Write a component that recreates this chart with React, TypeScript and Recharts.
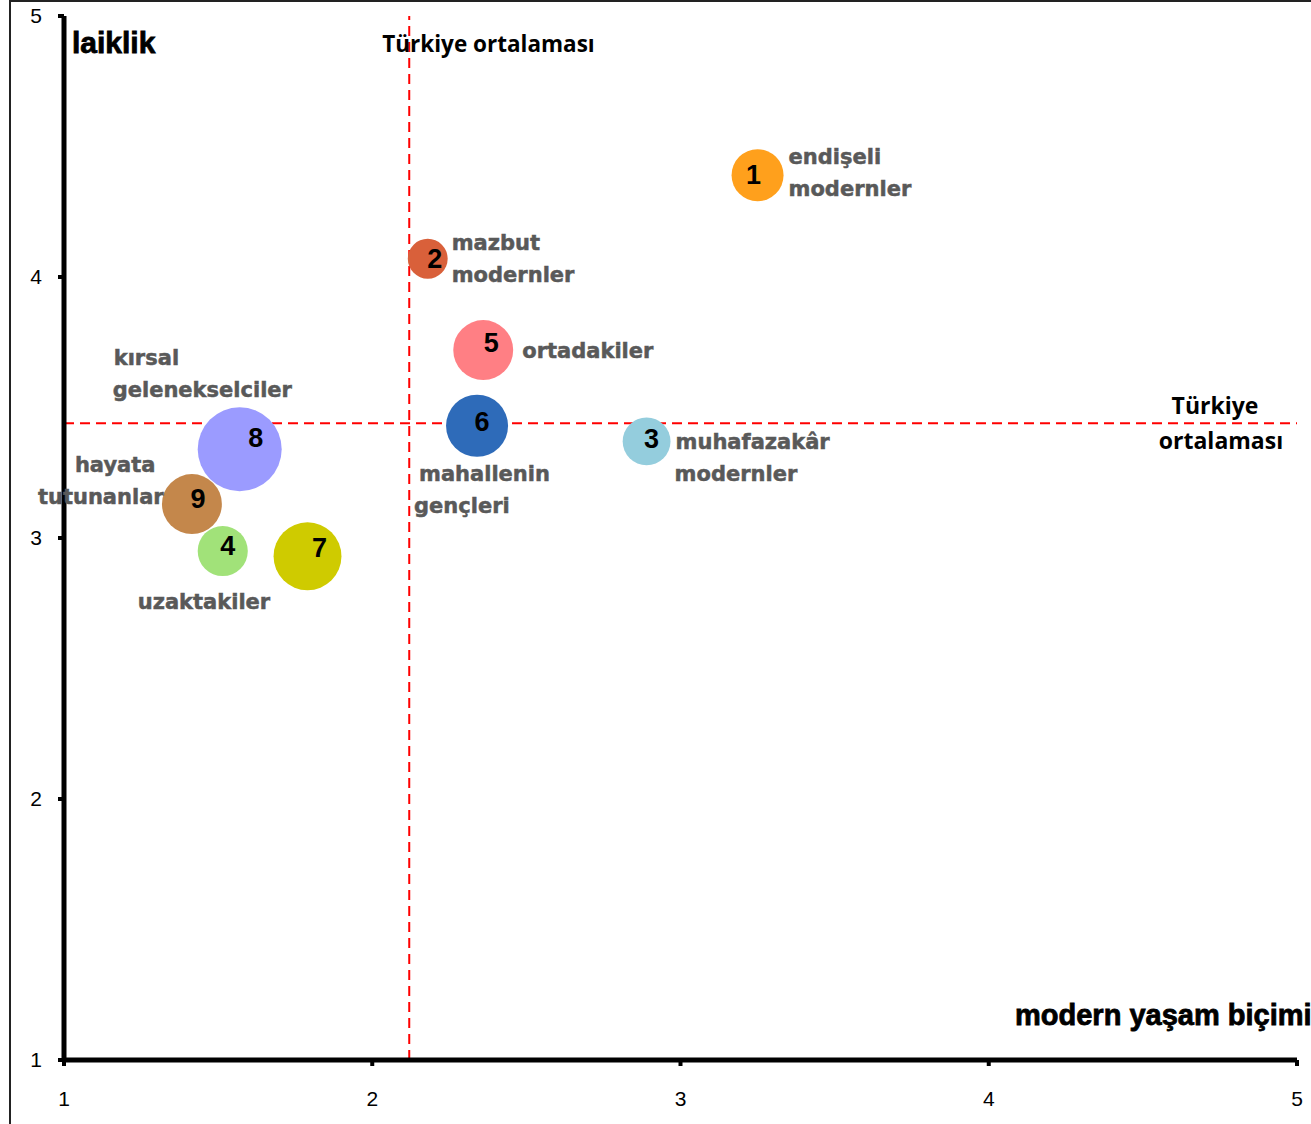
import {
  ScatterChart,
  Scatter,
  XAxis,
  YAxis,
  ZAxis,
  ReferenceLine,
  Label,
} from "recharts";

// segment id, modern yaşam biçimi (x), laiklik (y), share (bubble size)
const segmentIds = [1, 2, 3, 4, 5, 6, 7, 8, 9];
const modernValues = [3.25, 2.18, 2.89, 1.515, 2.36, 2.34, 1.79, 1.57, 1.415];
const laiklikValues = [4.39, 4.07, 3.37, 2.95, 3.72, 3.43, 2.93, 3.34, 3.13];
const shareValues = [8.5, 5.0, 7.2, 7.9, 11.3, 12.1, 14.5, 22.2, 11.3];
const segmentNames = [
  "endişeli\nmodernler",
  "mazbut\nmodernler",
  "muhafazakâr\nmodernler",
  "uzaktakiler",
  "ortadakiler",
  "mahallenin\ngençleri",
  "",
  "kırsal\ngelenekselciler",
  "hayata\ntutunanlar",
];
const segmentColors = [
  "#FFA01C",
  "#D9603A",
  "#94CDDD",
  "#A1E279",
  "#FF7F84",
  "#2E6BB9",
  "#CFCB00",
  "#9B9BFF",
  "#C4874B",
];

const turkeyMeanX = 2.12;
const turkeyMeanY = 3.44;
const axisTicks = [1, 2, 3, 4, 5];

const data = segmentIds.map((id, i) => ({
  id,
  x: modernValues[i],
  y: laiklikValues[i],
  share: shareValues[i],
  name: segmentNames[i],
  color: segmentColors[i],
}));

// where the number and the name sit relative to each bubble's centre (px)
const placement: Record<number, { num: [number, number]; dx: number[]; dy: number }> = {
  1: { num: [-4, 0], dx: [31, 31], dy: -18 },
  2: { num: [7, 0], dx: [24, 24], dy: -16 },
  3: { num: [5, -2], dx: [29, 28], dy: 1 },
  4: { num: [5, -5], dx: [-85], dy: 51 },
  5: { num: [8, -7], dx: [39], dy: 1 },
  6: { num: [5, -4], dx: [-58, -63], dy: 48 },
  7: { num: [12, -8], dx: [], dy: 0 },
  8: { num: [16, -11], dx: [-126, -127], dy: -91 },
  9: { num: [6, -5], dx: [-117, -154], dy: -39 },
};

const sans = "'Liberation Sans', Arial, sans-serif";
const labelFont = "'DejaVu Sans', sans-serif";
const calibriLike = "'Open Sans', 'Liberation Sans', sans-serif";

function Bubble(props: any) {
  const { cx, cy, payload } = props;
  const r = props.width ? props.width / 2 : Math.sqrt((props.size ?? 0) / Math.PI);
  const p = placement[payload.id];
  return (
    <g>
      <circle cx={cx} cy={cy} r={r} fill={payload.color} />
      <text
        x={cx + p.num[0]}
        y={cy + p.num[1]}
        textAnchor="middle"
        dominantBaseline="central"
        fontFamily={sans}
        fontWeight="bold"
        fontSize={27}
        fill="#000"
      >
        {payload.id}
      </text>
    </g>
  );
}

function SegmentName(props: any) {
  const { cx, cy, payload } = props;
  const p = placement[payload.id];
  const lines = payload.name ? payload.name.split("\n") : [];
  return (
    <g>
      {lines.map((line: string, i: number) => (
        <text
          key={i}
          x={cx + p.dx[i]}
          y={cy + p.dy + i * 32}
          dominantBaseline="central"
          fontFamily={labelFont}
          fontWeight="bold"
          fontSize={21}
          fill="#595959"
          stroke="#595959"
          strokeWidth={0.5}
        >
          {line}
        </text>
      ))}
    </g>
  );
}

export default function App() {
  return (
    <div
      style={{
        position: "absolute",
        left: 0,
        top: 0,
        width: 1311,
        height: 1124,
        overflow: "hidden",
        background: "#fff",
        fontFamily: sans,
      }}
    >
      <div
        style={{
          position: "absolute",
          left: 9,
          top: 0,
          width: 1400,
          height: 1300,
          border: "2px solid #222",
        }}
      />
      <div style={{ position: "absolute", left: 0, top: 0 }}>
        <ScatterChart width={1311} height={1124} margin={{ top: 16, right: 14, bottom: 0, left: 0 }}>
          <XAxis
            type="number"
            dataKey="x"
            domain={[1, 5]}
            ticks={axisTicks}
            height={64}
            axisLine={{ stroke: "#000", strokeWidth: 5 }}
            tickLine={{ stroke: "#000", strokeWidth: 4 }}
            tickSize={6}
            tickMargin={25}
            tick={{ fill: "#000", fontSize: 21, fontFamily: sans }}
          >
            <Label
              content={({ viewBox }: any) => (
                <text
                  x={viewBox.x + viewBox.width - 282}
                  y={viewBox.y - 45}
                  dominantBaseline="central"
                  fontFamily={sans}
                  fontWeight="bold"
                  fontSize={29}
                  fill="#000"
                  stroke="#000"
                  strokeWidth={0.8}
                >
                  modern yaşam biçimi
                </text>
              )}
            />
          </XAxis>
          <YAxis
            type="number"
            dataKey="y"
            domain={[1, 5]}
            ticks={axisTicks}
            width={64}
            axisLine={{ stroke: "#000", strokeWidth: 5 }}
            tickLine={{ stroke: "#000", strokeWidth: 4 }}
            tickSize={6}
            tickMargin={16}
            tick={{ fill: "#000", fontSize: 21, fontFamily: sans }}
          >
            <Label
              content={({ viewBox }: any) => (
                <text
                  x={viewBox.x + viewBox.width + 8}
                  y={viewBox.y + 26}
                  dominantBaseline="central"
                  fontFamily={sans}
                  fontWeight="bold"
                  fontSize={30}
                  fill="#000"
                  stroke="#000"
                  strokeWidth={0.8}
                >
                  laiklik
                </text>
              )}
            />
          </YAxis>
          <ZAxis type="number" dataKey="share" domain={[0, 22.2]} range={[0, Math.PI * 42 * 42]} />
          <Scatter data={data} shape={Bubble} isAnimationActive={false} />
          <Scatter data={data} shape={SegmentName} isAnimationActive={false} />
          <ReferenceLine
            x={turkeyMeanX}
            stroke="#FF0000"
            strokeWidth={2}
            strokeDasharray="10 6"
            label={({ viewBox }: any) => (
              <text
                x={viewBox.x - 27}
                y={viewBox.y + 27}
                dominantBaseline="central"
                fontFamily={calibriLike}
                fontWeight="bold"
                fontSize={22.5}
                fill="#000"
              >
                Türkiye ortalaması
              </text>
            )}
          />
          <ReferenceLine
            y={turkeyMeanY}
            stroke="#FF0000"
            strokeWidth={2}
            strokeDasharray="10 6"
            label={({ viewBox }: any) => (
              <g>
                <text
                  x={viewBox.x + viewBox.width - 82}
                  y={viewBox.y - 18}
                  textAnchor="middle"
                  dominantBaseline="central"
                  fontFamily={calibriLike}
                  fontWeight="bold"
                  fontSize={23}
                  fill="#000"
                >
                  Türkiye
                </text>
                <text
                  x={viewBox.x + viewBox.width - 76}
                  y={viewBox.y + 17}
                  textAnchor="middle"
                  dominantBaseline="central"
                  fontFamily={calibriLike}
                  fontWeight="bold"
                  fontSize={23}
                  fill="#000"
                >
                  ortalaması
                </text>
              </g>
            )}
          />
        </ScatterChart>
      </div>
    </div>
  );
}
